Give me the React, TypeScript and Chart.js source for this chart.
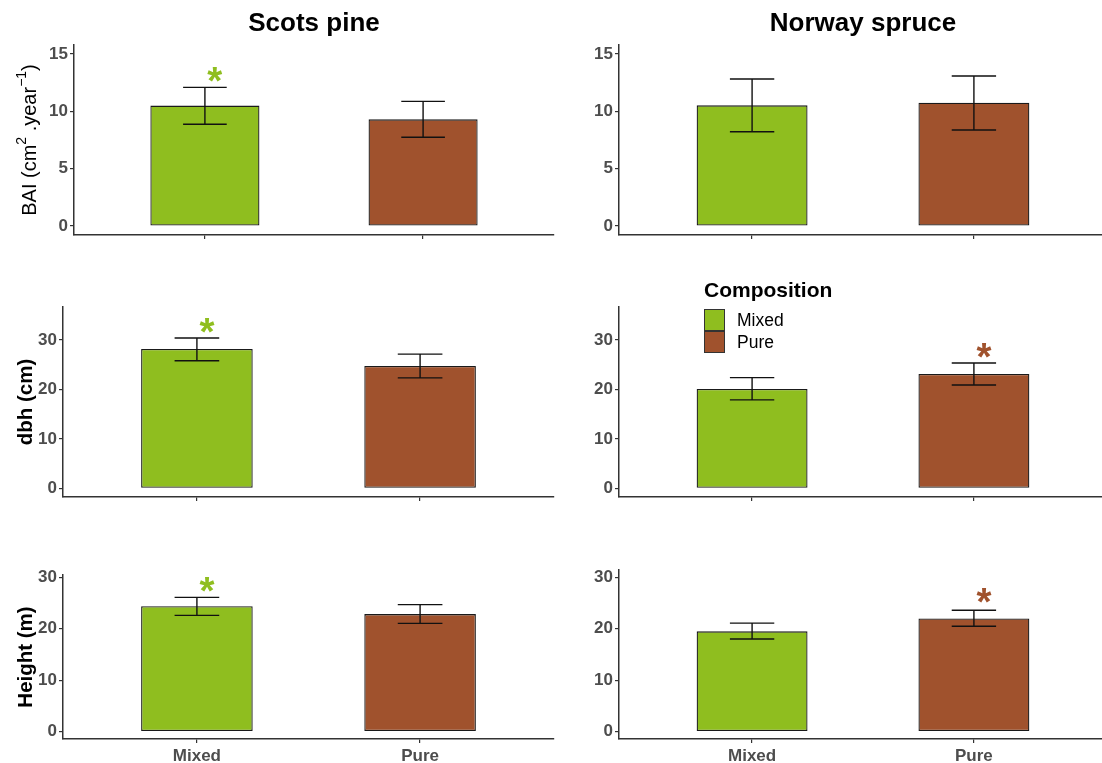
import React, { useEffect, useRef } from "react";
import { Chart, registerables } from "chart.js";

Chart.register(...registerables);

const FONT = "'Liberation Sans', Arial, Helvetica, sans-serif";
const GREEN = "#8FBE1F";
const BROWN = "#A0522D";
const AXIS = "#333333";
const TICKTXT = "#4D4D4D";

// ---------- data ----------
const categories = ["Mixed", "Pure"];
const categoryPos = [1, 2];
const barColors = [GREEN, BROWN];
const columnTitles = ["Scots pine", "Norway spruce"];
const legendTitle = "Composition";

// BAI (cm2 . year-1)
const baiPineMean = [10.5, 9.3];
const baiPineLow = [8.87, 7.74];
const baiPineHigh = [12.09, 10.87];
const baiSpruceMean = [10.52, 10.75];
const baiSpruceLow = [8.22, 8.37];
const baiSpruceHigh = [12.82, 13.08];

// dbh (cm)
const dbhPineMean = [28.2, 24.75];
const dbhPineLow = [25.8, 22.35];
const dbhPineHigh = [30.4, 27.15];
const dbhSpruceMean = [20.1, 23.15];
const dbhSpruceLow = [17.9, 20.9];
const dbhSpruceHigh = [22.4, 25.35];

// Height (m)
const heightPineMean = [24.4, 22.85];
const heightPineLow = [22.6, 21.05];
const heightPineHigh = [26.1, 24.7];
const heightSpruceMean = [19.5, 22.0];
const heightSpruceLow = [18.0, 20.5];
const heightSpruceHigh = [21.1, 23.6];

// y tick labels
const baiTicks = [0, 5, 10, 15];
const dbhTicks = [0, 10, 20, 30];
const heightTicks = [0, 10, 20, 30];

// significance asterisks (category index, y position)
const baiPineStars = [{ cat: 0, y: 13.2 }];
const baiSpruceStars: { cat: number; y: number }[] = [];
const dbhPineStars = [{ cat: 0, y: 32.9 }];
const dbhSpruceStars = [{ cat: 1, y: 27.8 }];
const heightPineStars = [{ cat: 0, y: 28.6 }];
const heightSpruceStars = [{ cat: 1, y: 26.5 }];
const STAR_NUDGE = 0.045;

type Seg = { text: string; size: number; bold: boolean; raise: number };

const baiTitle: Seg[] = [
  { text: "BAI (cm", size: 20, bold: false, raise: 0 },
  { text: "2", size: 14, bold: false, raise: 10 },
  { text: " .year", size: 20, bold: false, raise: 0 },
  { text: "\u22121", size: 14, bold: false, raise: 10 },
  { text: ")", size: 20, bold: false, raise: 0 },
];
const dbhTitle: Seg[] = [{ text: "dbh (cm)", size: 20.5, bold: true, raise: 0 }];
const heightTitle: Seg[] = [{ text: "Height (m)", size: 20.5, bold: true, raise: 0 }];

type Panel = {
  mean: number[];
  low: number[];
  high: number[];
  ticks: number[];
  yMin: number;
  yMax: number;
  stars: { cat: number; y: number }[];
  title: Seg[] | null;
  showX: boolean;
  left: number;
  top: number;
  width: number;
  height: number;
  padTop: number;
  padRight: number;
  yW: number;
  xH: number;
  titleX: number;
};

const panels: Panel[] = [
  { mean: baiPineMean, low: baiPineLow, high: baiPineHigh, ticks: baiTicks, yMin: -0.78, yMax: 15.78, stars: baiPineStars, title: baiTitle, showX: false,
    left: 0, top: 30, width: 560, height: 225, padTop: 15, padRight: 6, yW: 74, xH: 20, titleX: 36 },
  { mean: baiSpruceMean, low: baiSpruceLow, high: baiSpruceHigh, ticks: baiTicks, yMin: -0.78, yMax: 15.78, stars: baiSpruceStars, title: null, showX: false,
    left: 560, top: 30, width: 549, height: 225, padTop: 15, padRight: 2, yW: 59, xH: 20, titleX: 0 },
  { mean: dbhPineMean, low: dbhPineLow, high: dbhPineHigh, ticks: dbhTicks, yMin: -1.76, yMax: 36.68, stars: dbhPineStars, title: dbhTitle, showX: false,
    left: 0, top: 290, width: 560, height: 225, padTop: 17, padRight: 6, yW: 63, xH: 18, titleX: 32 },
  { mean: dbhSpruceMean, low: dbhSpruceLow, high: dbhSpruceHigh, ticks: dbhTicks, yMin: -1.76, yMax: 36.68, stars: dbhSpruceStars, title: null, showX: false,
    left: 560, top: 290, width: 549, height: 225, padTop: 17, padRight: 2, yW: 59, xH: 18, titleX: 0 },
  { mean: heightPineMean, low: heightPineLow, high: heightPineHigh, ticks: heightTicks, yMin: -1.42, yMax: 30.45, stars: heightPineStars, title: heightTitle, showX: true,
    left: 0, top: 555, width: 560, height: 208, padTop: 20, padRight: 6, yW: 63, xH: 24, titleX: 32 },
  { mean: heightSpruceMean, low: heightSpruceLow, high: heightSpruceHigh, ticks: heightTicks, yMin: -1.42, yMax: 31.42, stars: heightSpruceStars, title: null, showX: true,
    left: 560, top: 555, width: 549, height: 208, padTop: 15, padRight: 2, yW: 59, xH: 24, titleX: 0 },
];

function makePlugins(p: Panel) {
  const errorBars = {
    id: "errorBars",
    afterDatasetsDraw(chart: any) {
      const ctx = chart.ctx;
      const xs = chart.scales.x;
      const ys = chart.scales.y;
      ctx.save();
      ctx.strokeStyle = "#111111";
      ctx.lineWidth = 1.4;
      p.mean.forEach((_, i) => {
        const cx = xs.getPixelForValue(categoryPos[i]);
        const x0 = xs.getPixelForValue(categoryPos[i] - 0.1);
        const x1 = xs.getPixelForValue(categoryPos[i] + 0.1);
        const yl = ys.getPixelForValue(p.low[i]);
        const yh = ys.getPixelForValue(p.high[i]);
        ctx.beginPath();
        ctx.moveTo(cx, yl);
        ctx.lineTo(cx, yh);
        ctx.moveTo(x0, yl);
        ctx.lineTo(x1, yl);
        ctx.moveTo(x0, yh);
        ctx.lineTo(x1, yh);
        ctx.stroke();
      });
      ctx.restore();
    },
  };
  const stars = {
    id: "stars",
    afterDatasetsDraw(chart: any) {
      const ctx = chart.ctx;
      const xs = chart.scales.x;
      const ys = chart.scales.y;
      ctx.save();
      ctx.textAlign = "left";
      ctx.textBaseline = "alphabetic";
      ctx.font = `bold 100px ${FONT}`;
      const m0 = ctx.measureText("*");
      const w0 = m0.actualBoundingBoxLeft + m0.actualBoundingBoxRight;
      const size = (100 * 15) / (w0 || 30);
      ctx.font = `bold ${size}px ${FONT}`;
      const m = ctx.measureText("*");
      p.stars.forEach((s) => {
        const px = xs.getPixelForValue(categoryPos[s.cat] + STAR_NUDGE);
        const py = ys.getPixelForValue(s.y);
        const x = px - (m.actualBoundingBoxRight - m.actualBoundingBoxLeft) / 2;
        const y = py + (m.actualBoundingBoxAscent - m.actualBoundingBoxDescent) / 2;
        ctx.fillStyle = barColors[s.cat];
        ctx.fillText("*", x, y);
      });
      ctx.restore();
    },
  };
  const yTitle = {
    id: "yTitle",
    afterDraw(chart: any) {
      if (!p.title) return;
      const ctx = chart.ctx;
      const ca = chart.chartArea;
      const yc = (ca.top + ca.bottom) / 2;
      ctx.save();
      let total = 0;
      const widths: number[] = [];
      p.title.forEach((s) => {
        ctx.font = `${s.bold ? "bold " : ""}${s.size}px ${FONT}`;
        const w = ctx.measureText(s.text).width;
        widths.push(w);
        total += w;
      });
      ctx.translate(p.titleX, yc);
      ctx.rotate(-Math.PI / 2);
      ctx.textAlign = "left";
      ctx.textBaseline = "alphabetic";
      ctx.fillStyle = "#000000";
      let u = -total / 2;
      p.title.forEach((s, i) => {
        ctx.font = `${s.bold ? "bold " : ""}${s.size}px ${FONT}`;
        ctx.fillText(s.text, u, -s.raise);
        u += widths[i];
      });
      ctx.restore();
    },
  };
  return [errorBars, stars, yTitle];
}

function makeChart(canvas: HTMLCanvasElement, p: Panel) {
  const tickFont = { family: FONT, size: 17, weight: "bold" as const };
  return new Chart(canvas, {
    type: "bar",
    data: {
      datasets: [
        {
          data: p.mean.map((v, i) => ({ x: categoryPos[i], y: v })),
          backgroundColor: barColors,
          borderColor: "#1A1A1A",
          borderWidth: 1.3,
          borderSkipped: false,
          barPercentage: 0.5,
          categoryPercentage: 1,
        } as any,
      ],
    },
    options: {
      animation: false,
      responsive: false,
      events: [],
      layout: { padding: { top: p.padTop, right: p.padRight, left: 0, bottom: 0 } },
      plugins: {
        legend: { display: false },
        tooltip: { enabled: false },
        title: { display: false },
      },
      scales: {
        x: {
          type: "linear",
          offset: false,
          min: 0.4,
          max: 2.6,
          afterBuildTicks: (s: any) => {
            s.ticks = categoryPos.map((v) => ({ value: v }));
          },
          afterFit: (s: any) => {
            s.height = p.xH;
            s.paddingLeft = 0;
            s.paddingRight = 0;
          },
          ticks: {
            autoSkip: false,
            maxRotation: 0,
            minRotation: 0,
            padding: 3,
            color: TICKTXT,
            font: tickFont,
            callback: (v: any) => (p.showX ? categories[categoryPos.indexOf(Number(v))] : ""),
          },
          grid: { display: true, offset: false, drawOnChartArea: false, drawTicks: true, tickLength: 4, color: AXIS, lineWidth: 1.2 },
          border: { display: true, color: AXIS, width: 1.5 },
        },
        y: {
          type: "linear",
          min: p.yMin,
          max: p.yMax,
          afterBuildTicks: (s: any) => {
            s.ticks = p.ticks.map((v) => ({ value: v }));
          },
          afterFit: (s: any) => {
            s.width = p.yW;
            s.paddingTop = 0;
            s.paddingBottom = 0;
          },
          ticks: { padding: 2, color: TICKTXT, font: tickFont, callback: (v: any) => String(v) },
          grid: { display: true, drawOnChartArea: false, drawTicks: true, tickLength: 4, color: AXIS, lineWidth: 1.2 },
          border: { display: true, color: AXIS, width: 1.5 },
        },
      },
    } as any,
    plugins: makePlugins(p) as any,
  });
}

export default function App() {
  const refs = useRef<(HTMLCanvasElement | null)[]>([]);
  useEffect(() => {
    const charts = panels.map((p, i) => makeChart(refs.current[i] as HTMLCanvasElement, p));
    return () => charts.forEach((c) => c.destroy());
  }, []);

  const titleCenters = [314, 863];
  return (
    <div
      style={{
        position: "absolute",
        left: 0,
        top: 0,
        width: 1102,
        height: 763,
        overflow: "hidden",
        background: "#ffffff",
        fontFamily: FONT,
      }}
    >
      {panels.map((p, i) => (
        <canvas
          key={i}
          ref={(el) => {
            refs.current[i] = el;
          }}
          width={p.width}
          height={p.height}
          style={{ position: "absolute", left: p.left, top: p.top, width: p.width, height: p.height }}
        />
      ))}
      {columnTitles.map((t, i) => (
        <div
          key={t}
          style={{
            position: "absolute",
            left: titleCenters[i] - 200,
            width: 400,
            top: 9,
            textAlign: "center",
            fontSize: 26,
            lineHeight: "26px",
            fontWeight: "bold",
            color: "#000",
          }}
        >
          {t}
        </div>
      ))}
      <div
        style={{
          position: "absolute",
          left: 704,
          top: 279,
          fontSize: 21,
          lineHeight: "21px",
          fontWeight: "bold",
          color: "#000",
          whiteSpace: "nowrap",
        }}
      >
        {legendTitle}
      </div>
      {categories.map((c, i) => (
        <React.Fragment key={c}>
          <div
            style={{
              position: "absolute",
              left: 704,
              top: 309 + i * 22,
              width: 21,
              height: 22,
              boxSizing: "border-box",
              background: barColors[i],
              border: "1.5px solid #333333",
            }}
          />
          <div
            style={{
              position: "absolute",
              left: 737,
              top: 309 + i * 22,
              fontSize: 17.5,
              lineHeight: "22px",
              color: "#000",
              whiteSpace: "nowrap",
            }}
          >
            {c}
          </div>
        </React.Fragment>
      ))}
    </div>
  );
}
